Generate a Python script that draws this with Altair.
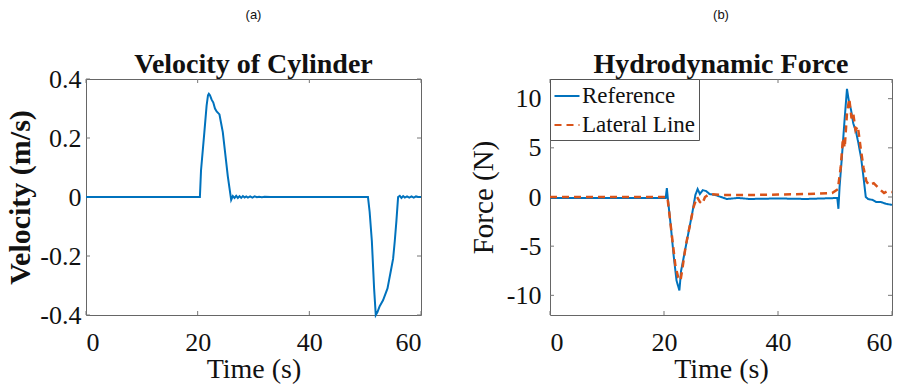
import altair as alt
import pandas as pd

# ---------------- data ----------------
vel_t = [0, 20.4, 20.6, 21.2, 21.6, 21.85, 22.0, 22.2, 22.5, 22.8, 23.1, 23.4, 23.9, 24.2, 24.5, 24.8,
         25.1, 25.4, 25.7, 26.0, 26.3, 26.6, 26.9, 27.2, 27.5, 27.8, 28.1, 28.4, 28.7, 29.0, 29.4,
         29.8, 30.2, 30.6, 31.0, 31.5, 32.0, 33.0, 34.0, 50.5, 50.8, 51.2, 51.6, 51.9, 52.2, 52.6,
         52.9, 53.2, 53.6, 54.0, 54.3, 54.6, 55.0, 55.3, 55.6, 55.9, 56.2, 56.5, 56.8, 57.1, 57.5,
         57.9, 58.3, 58.7, 59.1, 59.5, 60]
vel_v = [0, 0, 0.09, 0.22, 0.31, 0.345, 0.35, 0.345, 0.33, 0.32, 0.30, 0.29, 0.28, 0.25, 0.22, 0.17,
         0.12, 0.07, 0.03, -0.01, 0.003, -0.003, 0.004, -0.003, 0.003, -0.003, 0.003, -0.002, 0.002,
         -0.002, 0.002, -0.002, 0.002, -0.001, 0.001, -0.001, 0.001, 0, 0, 0, -0.05, -0.15, -0.31,
         -0.40, -0.39, -0.37, -0.36, -0.35, -0.33, -0.31, -0.28, -0.25, -0.21, -0.15, -0.08, 0.0,
         0.004, -0.003, 0.003, -0.002, 0.002, -0.002, 0.002, -0.002, 0.002, 0, 0]

ref_t = [0, 10, 20.3, 20.5, 20.7, 21.2, 21.7, 22.2, 22.7, 23.0, 23.5, 24.0, 24.5, 25.0, 25.5, 25.9,
         26.3, 26.8, 27.4, 28.0, 29.0, 30.0, 31.0, 33.0, 35.0, 40.0, 45.0, 50.4, 50.6, 50.8, 51.2,
         51.7, 52.1, 52.5, 52.8, 53.2, 53.7, 54.1, 54.6, 55.0, 55.4, 55.8, 56.6, 57.2, 58.0, 59.0, 60.0]
ref_f = [-0.1, -0.1, -0.1, 0.9, -0.3, -3.0, -6.0, -8.5, -9.5, -7.5, -6.0, -4.5, -3.0, -1.5, 0.2, 0.8,
         0.3, 0.7, 0.6, 0.3, 0.2, 0.0, -0.2, -0.1, -0.2, -0.15, -0.2, -0.1, -1.2, 1.0, 4.0,
         8.0, 11.0, 9.5, 8.9, 7.5, 6.6, 5.5, 3.9, 2.0, 0.0, -0.2, -0.3, -0.5, -0.5, -0.7, -0.8]

lat_t = [0, 20.0, 20.6, 21.0, 21.5, 22.0, 22.5, 22.9, 23.3, 23.8, 24.5, 25.2, 25.8, 26.3, 26.7, 27.2,
         28.0, 30.0, 35.0, 40.0, 45.0, 49.5, 50.5, 51.0, 51.4, 51.7, 52.1, 52.5, 52.9, 53.2, 53.6,
         54.0, 54.5, 55.0, 55.5, 56.0, 56.8, 57.5, 58.0, 58.6, 59.2, 60.0]
lat_f = [0, 0, 0, -2.0, -4.5, -7.0, -8.2, -8.5, -7.0, -5.0, -3.0, -1.0, 0.0, -0.5, -0.7, 0.0,
         0.3, 0.2, 0.2, 0.25, 0.3, 0.4, 0.8, 3.0, 6.0, 5.0, 8.5, 10.0, 8.0, 8.5, 6.8,
         7.2, 5.0, 3.0, 1.6, 1.2, 1.4, 1.0, 0.7, 0.4, 0.6, 0.5]

series_names = ["Reference", "Lateral Line"]
x_ticks = [0, 20, 40, 60]
vel_ticks = [-0.4, -0.2, 0, 0.2, 0.4]
force_ticks = [-10, -5, 0, 5, 10]

# ---------------- style ----------------
BLUE = "#0072BD"
ORANGE = "#D95319"
SERIF = "Liberation Serif"
SANS = "Liberation Sans"
TICKC = "#777777"
W1, W2, H = 335, 342, 236
TL = 4
LBL = 26
TTL = 28

vel_df = pd.DataFrame({"t": vel_t, "v": vel_v})
ref_df = pd.DataFrame({"t": ref_t, "v": ref_f, "series": series_names[0]})
lat_df = pd.DataFrame({"t": lat_t, "v": lat_f, "series": series_names[1]})
xt_df = pd.DataFrame({"t": x_ticks})
vt_df = pd.DataFrame({"v": vel_ticks})
ft_df = pd.DataFrame({"v": force_ticks})

axis_common = dict(labelFont=SERIF, labelFontSize=LBL, labelColor="#111111",
                   titleFont=SERIF, titleColor="#111111",
                   domain=False, ticks=False, grid=False)


def X():
    return alt.X("t:Q", scale=alt.Scale(domain=[0, 60], nice=False, zero=False),
                 axis=alt.Axis(values=x_ticks, title="Time (s)", labelPadding=14, titleFontSize=TTL,
                               titleFontWeight="normal", titlePadding=0, **axis_common))


def Yv():
    return alt.Y("v:Q", scale=alt.Scale(domain=[-0.4, 0.4], nice=False, zero=False),
                 axis=alt.Axis(values=vel_ticks, title="Velocity (m/s)", labelPadding=5,
                               labelExpr="datum.value + ''", titleFontWeight="bold",
                               titleFontSize=30, titlePadding=4, **axis_common))


def Yf():
    return alt.Y("v:Q", scale=alt.Scale(domain=[-12, 12], nice=False, zero=False),
                 axis=alt.Axis(values=force_ticks, title="Force (N)", labelPadding=9,
                               labelExpr="datum.value + ''", titleFontWeight="normal",
                               titleFontSize=29, titlePadding=8, **axis_common))


def tick_layers(Yf_, ydf, W):
    xb = alt.Chart(xt_df).mark_rule(color=TICKC).encode(x=X(), y=alt.value(H), y2=alt.value(H - TL))
    xt = alt.Chart(xt_df).mark_rule(color=TICKC).encode(x=X(), y=alt.value(0), y2=alt.value(TL))
    yl = alt.Chart(ydf).mark_rule(color=TICKC).encode(y=Yf_(), x=alt.value(0), x2=alt.value(TL))
    yr = alt.Chart(ydf).mark_rule(color=TICKC).encode(y=Yf_(), x=alt.value(W - TL), x2=alt.value(W))
    return [xb, xt, yl, yr]


def title(letter, main, off):
    return alt.TitleParams(text=letter, subtitle=main, font=SANS, fontSize=13, fontWeight="normal",
                           color="#111111", subtitleFont=SERIF, subtitleFontSize=TTL,
                           subtitleFontWeight="bold", subtitleColor="#111111",
                           subtitlePadding=29, offset=off, anchor="middle")


# ---------------- panel (a) ----------------
vel_line = alt.Chart(vel_df).mark_line(color=BLUE, strokeWidth=2).encode(x=X(), y=Yv())
left = alt.layer(*tick_layers(Yv, vt_df, W1), vel_line).properties(
    width=W1, height=H, title=title("(a)", "Velocity of Cylinder", -13))

# ---------------- panel (b) ----------------
color_scale = alt.Scale(domain=series_names, range=[BLUE, ORANGE])
dash_scale = alt.Scale(domain=series_names, range=[[1, 0], [7, 5]])
legend = alt.Legend(title=None, orient="top-left", offset=0, padding=3, strokeColor="#555555",
                    fillColor="white", labelFont=SERIF, labelFontSize=23, labelColor="#111111",
                    symbolType="stroke", symbolSize=625, symbolStrokeWidth=2.2, rowPadding=3,
                    labelOffset=1, cornerRadius=0)


def force_line(df, sw):
    return alt.Chart(df).mark_line(strokeWidth=sw).encode(
        x=X(), y=Yf(),
        color=alt.Color("series:N", scale=color_scale, legend=legend),
        strokeDash=alt.StrokeDash("series:N", scale=dash_scale, legend=legend),
    )


right = alt.layer(*tick_layers(Yf, ft_df, W2), force_line(ref_df, 2), force_line(lat_df, 2.5)).properties(
    width=W2, height=H, title=title("(b)", "Hydrodynamic Force", 0))

chart = alt.hconcat(left, right, spacing=129, bounds="flush").resolve_legend(
    color="independent", strokeDash="independent"
).properties(
    padding={"left": 5, "top": 8, "right": 5, "bottom": 0}
).configure_view(stroke="#666666", strokeWidth=1)

chart.save("out.html", embed_options={"renderer": "svg", "actions": False})
